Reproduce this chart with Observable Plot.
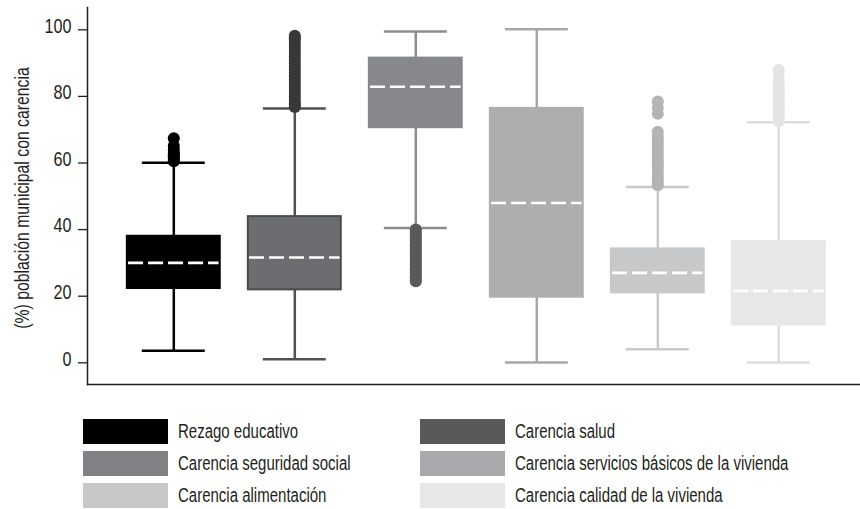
<!DOCTYPE html>
<html>
<head>
<meta charset="utf-8">
<script src="https://cdn.jsdelivr.net/npm/d3@7"></script>
<script src="https://cdn.jsdelivr.net/npm/@observablehq/plot@0.6"></script>
<style>
  html, body { margin: 0; padding: 0; background: #fff; }
  body { width: 860px; height: 509px; overflow: hidden; font-family: "Liberation Sans", Arial, sans-serif; }
  #legend { position: relative; width: 860px; height: 109px; }
  .item { position: absolute; display: flex; align-items: center; height: 25px; }
  .sw { width: 85px; height: 25px; margin-right: 10px; flex: none; }
  .lab { display: inline-block; font-size: 20px; color: #231f20; white-space: nowrap; transform: scaleX(0.75); transform-origin: 0 50%; }
</style>
</head>
<body>
<div id="chart"></div>
<div id="legend"></div>
<script>
// Carencias sociales a nivel municipal: resumen de cada distribución
const categories = [
  "Rezago educativo",
  "Carencia salud",
  "Carencia seguridad social",
  "Carencia servicios básicos de la vivienda",
  "Carencia alimentación",
  "Carencia calidad de la vivienda"
];
const whiskerLow  = [3.6, 1.1, 40.5, 0.1, 4.1, 0.1];
const quartile1   = [22.3, 21.9, 70.6, 19.7, 21.0, 11.4];
const medians     = [30.0, 31.6, 82.9, 48.0, 27.0, 21.6];
const quartile3   = [38.0, 43.9, 91.5, 76.4, 34.2, 36.4];
const whiskerHigh = [60.1, 76.4, 99.5, 100.2, 52.8, 72.2];
const yTicks = [0, 20, 40, 60, 80, 100];
const yLabel = "(%) población municipal con carencia";

// valores atípicos por categoría
const outliersEdu = [60.5, 61, 61.5, 62, 62.5, 63, 64, 65.2, 67.4];
const outliersSalud = [76.8, 77.5, 78, 79, 80, 81, 82, 83, 84, 85, 86, 87, 88, 89, 90, 91, 92, 93, 94, 95, 96, 97, 97.7, 98.2];
const outliersSeguridad = [40, 39.2, 38.5, 37.6, 36.8, 36, 35.2, 34.4, 33.6, 32.8, 32, 31.2, 30.4, 29.6, 28.8, 28, 27.2, 26.4, 25.6, 24.9, 24.5];
const outliersServicios = [];
const outliersAlimentacion = [53.3, 54, 55, 56, 57, 58, 59, 60, 61, 62, 63, 64, 65, 66, 67, 68, 69.4, 74.8, 76.5, 78.5];
const outliersCalidad = [72.5, 73.2, 74, 75, 76, 77, 78, 79, 80, 81, 82, 83, 84.5, 86, 88];
const outliers = [outliersEdu, outliersSalud, outliersSeguridad, outliersServicios, outliersAlimentacion, outliersCalidad];

const legendColors = ["#000000", "#58595b", "#808285", "#a7a9ac", "#c7c8ca", "#e6e7e8"];
const boxFill      = ["#000000", "#6c6d70", "#87888b", "#adaeb0", "#c7c8ca", "#e6e7e8"];
const boxStroke    = ["#000000", "#4a4b4d", "#87888b", "#adaeb0", "#c7c8ca", "#e6e7e8"];
const lineColor    = ["#000000", "#505153", "#8b8c8e", "#a6a7a9", "#c8c9cb", "#dcdddf"];
const dotColor     = ["#000000", "#36383a", "#58595b", "#a6a7a9", "#b3b4b6", "#e3e4e5"];

const boxes = categories.map((c, i) => ({
  i, c,
  lo: whiskerLow[i], q1: quartile1[i], med: medians[i], q3: quartile3[i], hi: whiskerHigh[i]
}));
const points = outliers.flatMap((vals, i) => vals.map(v => ({i, v})));

const boxHalf = 0.384;
const capHalf = 0.26;
const ink = "#231f20";

const plot = Plot.plot({
  width: 860,
  height: 400,
  marginLeft: 87,
  marginRight: 0,
  marginTop: 7,
  marginBottom: 16,
  style: {fontFamily: "'Liberation Sans', Arial, sans-serif", background: "#fff", color: ink},
  x: {domain: [0, 5], range: [173.3, 778.3], axis: null},
  y: {domain: [0, 100], range: [362.3, 29.3], axis: null},
  color: {type: "identity"},
  marks: [
    Plot.frame({anchor: "left", stroke: ink, strokeWidth: 1.5}),
    Plot.frame({anchor: "bottom", stroke: ink, strokeWidth: 1.5}),
    // marcas del eje y y sus etiquetas (las etiquetas van un poco por encima de la marca)
    Plot.axisY({ticks: yTicks, tickSize: 9, tickFormat: () => "", label: null, strokeWidth: 1.3}),
    Plot.axisY({ticks: yTicks, tickSize: 0, tickPadding: 16, fontSize: 21, dy: -4, label: null, fill: ink}),
    Plot.text([yLabel], {frameAnchor: "left", rotate: -90, dx: -65.5, dy: 2, textAnchor: "middle", fontSize: 20.5, fill: ink}),
    // bigotes
    Plot.ruleX(boxes, {x: "i", y1: "lo", y2: "q1", stroke: d => lineColor[d.i], strokeWidth: 2.5}),
    Plot.ruleX(boxes, {x: "i", y1: "q3", y2: "hi", stroke: d => lineColor[d.i], strokeWidth: 2.5}),
    Plot.ruleY(boxes, {y: "lo", x1: d => d.i - capHalf, x2: d => d.i + capHalf, stroke: d => lineColor[d.i], strokeWidth: 2.5}),
    Plot.ruleY(boxes, {y: "hi", x1: d => d.i - capHalf, x2: d => d.i + capHalf, stroke: d => lineColor[d.i], strokeWidth: 2.5}),
    // cajas
    Plot.rect(boxes, {x1: d => d.i - boxHalf, x2: d => d.i + boxHalf, y1: "q1", y2: "q3", fill: d => boxFill[d.i], stroke: d => boxStroke[d.i], strokeWidth: 2}),
    // medianas
    Plot.ruleY(boxes, {y: "med", x1: d => d.i - boxHalf + 0.01, x2: d => d.i + boxHalf - 0.01, stroke: "#fff", strokeWidth: 2.6, strokeDasharray: "15,5"}),
    // atípicos
    Plot.dot(points, {x: "i", y: "v", r: 6, fill: d => dotColor[d.i], stroke: "none"})
  ]
});
document.getElementById("chart").appendChild(plot);

// tipografía condensada: cada texto se estrecha a un 77 % de su ancho natural
d3.select(plot).selectAll("text").each(function() {
  if (!this.textContent) return;
  const w = this.getComputedTextLength();
  this.setAttribute("textLength", (w * 0.77).toFixed(2));
  this.setAttribute("lengthAdjust", "spacingAndGlyphs");
});

// leyenda en dos columnas
const legend = document.getElementById("legend");
const colX = [83, 420];
const rowY = [19, 51, 83];
categories.forEach((c, k) => {
  const item = document.createElement("div");
  item.className = "item";
  item.style.left = colX[k % 2] + "px";
  item.style.top = rowY[Math.floor(k / 2)] + "px";
  const sw = document.createElement("div");
  sw.className = "sw";
  sw.style.background = legendColors[k];
  const lab = document.createElement("span");
  lab.className = "lab";
  lab.textContent = c;
  item.appendChild(sw);
  item.appendChild(lab);
  legend.appendChild(item);
});
</script>
</body>
</html>
